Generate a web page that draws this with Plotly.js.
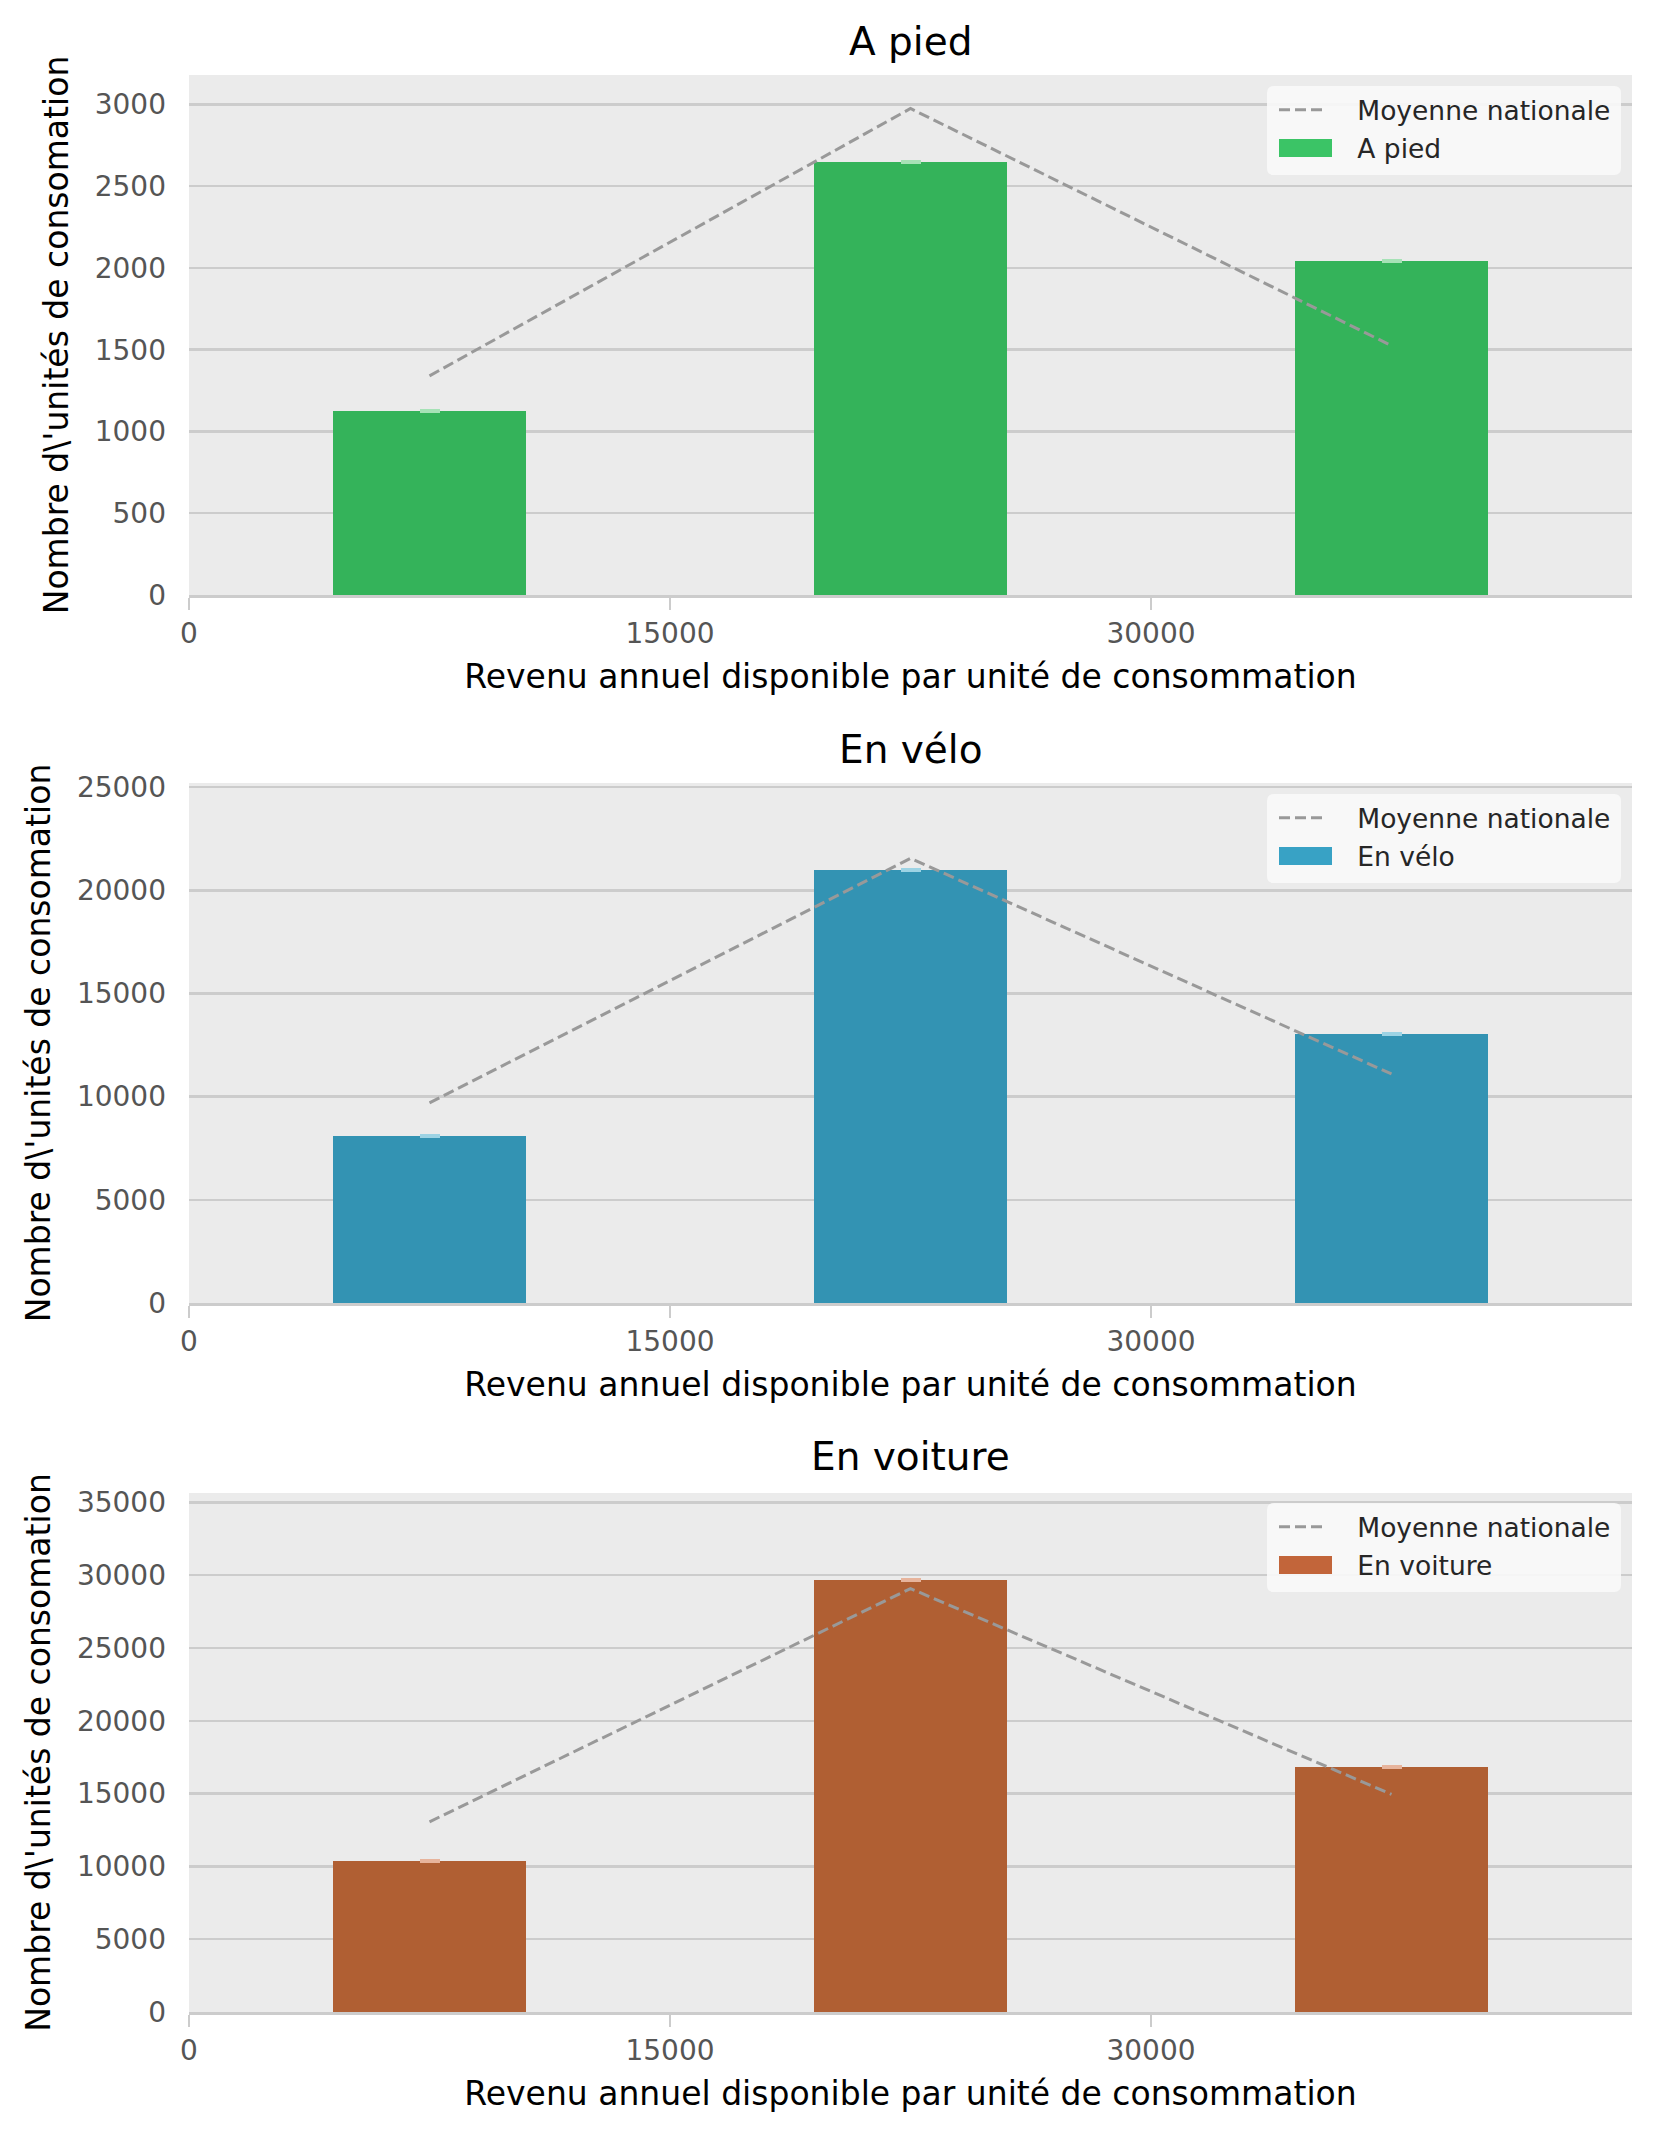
<!DOCTYPE html>
<html>
<head>
<meta charset="utf-8">
<script src="https://cdn.plot.ly/plotly-3.0.1.min.js"></script>
<style>
  html, body { margin: 0; padding: 0; background: #ffffff; }
  #chart { width: 1655px; height: 2135px; }
</style>
</head>
<body>
<div id="chart"></div>
<script>
// ---- Data ----
const incomeBins = [7500, 22500, 37500];          // revenu annuel (centre de classe)
const xTickValues = [0, 15000, 30000];
const xTickLabels = ["0", "15000", "30000"];

const panelTitles = ["A pied", "En vélo", "En voiture"];
const lineName = "Moyenne nationale";

const aPiedValues = [1125, 2650, 2045];
const aPiedMoyenne = [1340, 2975, 1525];

const veloValues = [8070, 21000, 13060];
const veloMoyenne = [9700, 21550, 11100];

const voitureValues = [10360, 29700, 16800];
const voitureMoyenne = [13060, 29080, 14950];

const xTitle = "Revenu annuel disponible par unité de consommation";
const yTitle = "Nombre d\\'unités de consomation";

// ---- Styling ----
const FONT = "DejaVu Sans";
const barColors = ["#34b35a", "#3393b3", "#b05f33"];
const legendSwatch = ["#3bc466", "#38a2c5", "#c2653a"];
const capColors = ["#a6e2b6", "#9dd3e4", "#e7b49c"];
const lineColor = "#999999";
const gridColor = "#cccccc";
const PAD = "\u00A0\u00A0\u00A0";

const panels = [
  {vals: aPiedValues, moy: aPiedMoyenne, ymax: 3180, dtick: 500},
  {vals: veloValues, moy: veloMoyenne, ymax: 25200, dtick: 5000},
  {vals: voitureValues, moy: voitureMoyenne, ymax: 35640, dtick: 5000}
];

const W = 1655, H = 2135, ML = 189, MR = 23;
const PW = W - ML - MR;
const plotTops = [75, 783, 1493];
const plotBottoms = [595, 1303, 2012];
const titleCentersY = [41, 749, 1456];
const legendTops = [86, 794, 1503];
const legendBox = {left: 1267, right: 1621, height: 89, r: 7};
const swatch = {left: 1279, right: 1332, rowOffset: 62, half: 9};

function px2x(px) { return (px - ML) / PW; }
function px2y(py) { return 1 - py / H; }

function roundedRect(l, t, r, b, rad) {
  const X = px2x, Y = px2y;
  return "M " + X(l + rad) + "," + Y(t) +
    " L " + X(r - rad) + "," + Y(t) +
    " Q " + X(r) + "," + Y(t) + " " + X(r) + "," + Y(t + rad) +
    " L " + X(r) + "," + Y(b - rad) +
    " Q " + X(r) + "," + Y(b) + " " + X(r - rad) + "," + Y(b) +
    " L " + X(l + rad) + "," + Y(b) +
    " Q " + X(l) + "," + Y(b) + " " + X(l) + "," + Y(b - rad) +
    " L " + X(l) + "," + Y(t + rad) +
    " Q " + X(l) + "," + Y(t) + " " + X(l + rad) + "," + Y(t) + " Z";
}

const traces = [];
const layout = {
  width: W, height: H,
  margin: {l: ML, r: MR, t: 0, b: 0, pad: 0},
  paper_bgcolor: "#ffffff",
  plot_bgcolor: "#ebebeb",
  font: {family: FONT, color: "#222222"},
  showlegend: true,
  annotations: [],
  shapes: [],
  bargap: 0
};

panels.forEach((p, i) => {
  const n = i === 0 ? "" : String(i + 1);
  const xa = "x" + n, ya = "y" + n;
  const legendId = "legend" + n;

  traces.push({
    type: "scatter", mode: "lines",
    x: incomeBins, y: p.moy,
    name: PAD + lineName,
    xaxis: xa, yaxis: ya, legend: legendId,
    line: {color: lineColor, width: 3, dash: "11px,5px"},
    hoverinfo: "skip"
  });
  traces.push({
    type: "bar",
    x: incomeBins, y: p.vals,
    width: 6000,
    name: panelTitles[i],
    showlegend: false,
    xaxis: xa, yaxis: ya,
    marker: {color: barColors[i], line: {width: 0}},
    error_y: {type: "data", array: p.vals.map(() => 0), visible: true,
              color: capColors[i], thickness: 4, width: 10},
    hoverinfo: "skip"
  });
  // legend text entry for the bars (swatch drawn as a shape below)
  traces.push({
    type: "scatter", mode: "lines",
    x: [null], y: [null],
    name: PAD + panelTitles[i],
    xaxis: xa, yaxis: ya, legend: legendId,
    line: {color: "rgba(0,0,0,0)", width: 1},
    hoverinfo: "skip"
  });

  const domTop = 1 - plotTops[i] / H;
  const domBot = 1 - plotBottoms[i] / H;

  layout["xaxis" + n] = {
    domain: [0, 1],
    anchor: ya,
    range: [0, 45000],
    tickvals: xTickValues, ticktext: xTickLabels,
    ticks: "outside", ticklen: 12, tickwidth: 2.5, tickcolor: gridColor,
    showline: true, linecolor: gridColor, linewidth: 2.5,
    showgrid: false, zeroline: false,
    tickfont: {family: FONT, size: 28, color: "#555555"},
    ticklabelstandoff: 0,
    automargin: false,
    title: {text: xTitle, font: {family: FONT, size: 33, color: "#000000"}, standoff: 16}
  };
  layout["yaxis" + n] = {
    domain: [domBot, domTop],
    anchor: xa,
    range: [0, p.ymax],
    dtick: p.dtick, tick0: 0,
    tickformat: "d",
    showgrid: true, gridcolor: gridColor, gridwidth: 2.5,
    zeroline: false, showline: false, ticks: "",
    tickfont: {family: FONT, size: 28, color: "#555555"},
    ticklabelstandoff: 22,
    automargin: false,
    title: {text: yTitle, font: {family: FONT, size: 33, color: "#000000"}, standoff: 16}
  };
  layout[legendId] = {
    x: px2x(legendBox.left + 7), xanchor: "left",
    y: px2y(legendTops[i]), yanchor: "top",
    xref: "paper", yref: "paper",
    bgcolor: "rgba(0,0,0,0)",
    borderwidth: 0,
    font: {family: FONT, size: 26.5, color: "#262626"},
    itemwidth: 48,
    traceorder: "normal"
  };
  layout.shapes.push({
    type: "path", xref: "paper", yref: "paper", layer: "above",
    path: roundedRect(legendBox.left, legendTops[i], legendBox.right,
                      legendTops[i] + legendBox.height, legendBox.r),
    fillcolor: "rgba(250,250,250,0.9)",
    line: {width: 0}
  });
  const rowY = legendTops[i] + swatch.rowOffset;
  layout.shapes.push({
    type: "rect", xref: "paper", yref: "paper", layer: "above",
    x0: px2x(swatch.left), x1: px2x(swatch.right),
    y0: px2y(rowY - swatch.half), y1: px2y(rowY + swatch.half),
    fillcolor: legendSwatch[i],
    line: {width: 0}
  });
  layout.annotations.push({
    text: panelTitles[i],
    xref: "paper", yref: "paper",
    x: 0.5, y: 1 - titleCentersY[i] / H,
    xanchor: "center", yanchor: "middle",
    showarrow: false,
    font: {family: FONT, size: 39, color: "#000000"}
  });
});

Plotly.newPlot("chart", traces, layout, {staticPlot: true, displayModeBar: false});
</script>
</body>
</html>
